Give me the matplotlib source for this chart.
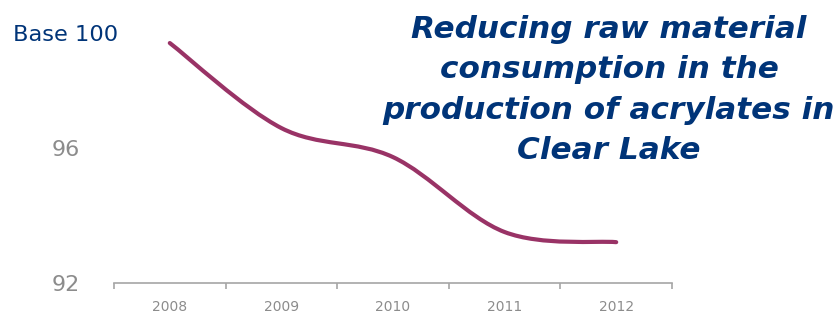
import matplotlib
matplotlib.use("Agg")
import matplotlib.pyplot as plt
from matplotlib.path import Path
from matplotlib.patches import PathPatch
import numpy as np

years = ["2008", "2009", "2010", "2011", "2012"]
values = [99.11, 96.59, 95.73, 93.51, 93.21]
ytick_vals = [92, 96]
ytick_labels = ["92", "96"]
title = "Reducing raw material\nconsumption in the\nproduction of acrylates in\nClear Lake"
base_label = "Base 100"

LINE = "#993366"
NAVY = "#003478"
GRAY = "#8C8C8C"
AXGRAY = "#A6A6A6"

fig = plt.figure(figsize=(8.36, 3.24), dpi=100)
ax = fig.add_axes([114/836, 41/324, 558/836, 270/324])

x = np.arange(len(years), dtype=float)
y = np.array(values, dtype=float)

# Excel-style smoothed line: Catmull-Rom style Bezier segments
verts = [(x[0], y[0])]
codes = [Path.MOVETO]
n = len(x)
for i in range(n - 1):
    p0 = (x[i-1], y[i-1]) if i > 0 else (x[i], y[i])
    p1 = (x[i], y[i])
    p2 = (x[i+1], y[i+1])
    p3 = (x[i+2], y[i+2]) if i + 2 < n else (x[i+1], y[i+1])
    c1 = (p1[0] + (p2[0] - p0[0]) / 6, p1[1] + (p2[1] - p0[1]) / 6)
    c2 = (p2[0] - (p3[0] - p1[0]) / 6, p2[1] - (p3[1] - p1[1]) / 6)
    verts += [c1, c2, p2]
    codes += [Path.CURVE4] * 3
patch = PathPatch(Path(verts, codes), facecolor="none", edgecolor=LINE,
                  lw=3.0, capstyle="round", joinstyle="round")
ax.add_patch(patch)

ax.set_xlim(-0.5, len(years) - 0.5)
ax.set_ylim(92, 100)

for s in ["top", "right", "left"]:
    ax.spines[s].set_visible(False)
ax.spines["bottom"].set_color(AXGRAY)
ax.spines["bottom"].set_linewidth(1.2)

ax.set_xticks(x)
ax.set_xticklabels(years, fontsize=10, color=GRAY)
ax.tick_params(axis="x", which="major", length=0, pad=12)
ax.set_xticks(np.arange(-0.5, len(years), 1.0), minor=True)
ax.tick_params(axis="x", which="minor", length=4.5, width=1.2, color=AXGRAY, direction="out")

ax.set_yticks(ytick_vals)
ax.set_yticklabels(ytick_labels, fontsize=16, color=GRAY)
ax.tick_params(axis="y", length=0, pad=24.5)

fig.text(13/836, 1 - 35/324, base_label, fontsize=16.2, color=NAVY,
         ha="left", va="center")

fig.text(609/836, 1 - 90/324, title, fontsize=22.4, color=NAVY,
         fontweight="bold", fontstyle="italic", ha="center", va="center",
         linespacing=1.5)

fig.savefig("out.png", dpi=100)
